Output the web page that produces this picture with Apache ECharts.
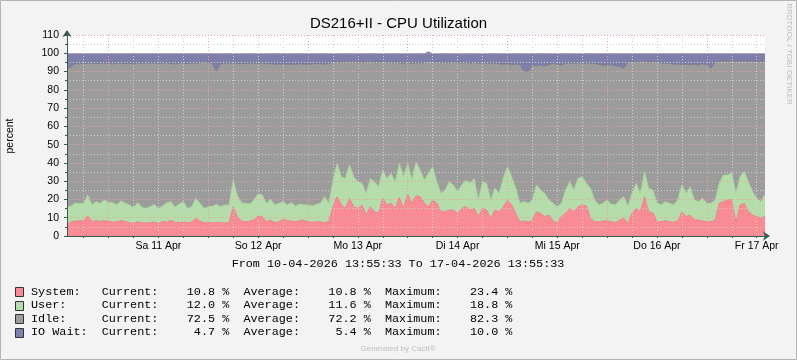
<!DOCTYPE html>
<html>
<head>
<meta charset="utf-8">
<script src="https://cdn.jsdelivr.net/npm/echarts@6/dist/echarts.min.js"></script>
<style>
html,body{margin:0;padding:0;background:#f3f3f3;}
#c{width:797px;height:360px;}
</style>
</head>
<body>
<div id="c"></div>
<script>
// ---- data (hourly samples, 10-04-2026 14:00 .. 17-04-2026 14:00) ----
const dayLabels = ['Sa 11 Apr','So 12 Apr','Mo 13 Apr','Di 14 Apr','Mi 15 Apr','Do 16 Apr','Fr 17 Apr'];
const yTicks = [0,10,20,30,40,50,60,70,80,90,100,110];

const systemVals = [
6.0,7.8,8.2,8.2,8.3,11.0,8.0,8.4,8.0,8.4,
8.2,7.5,7.8,8.4,8.0,7.3,6.9,7.8,7.3,7.1,
7.3,7.6,6.9,8.0,7.5,8.7,7.5,7.3,7.8,7.1,
7.6,9.7,8.2,7.3,7.3,7.1,7.5,7.3,7.1,7.3,
16.0,10.5,8.2,7.8,8.2,8.7,11.0,10.6,7.8,8.7,
7.3,7.8,9.3,8.4,8.2,7.8,8.4,8.7,7.8,7.5,
7.8,7.8,7.3,7.8,16.0,21.5,17.0,15.1,20.5,16.0,
15.1,17.0,11.5,16.0,13.3,12.4,20.6,17.0,17.9,15.1,
21.0,15.1,23.0,17.9,22.0,21.5,17.9,16.0,19.7,17.9,
13.3,13.3,14.2,14.2,12.4,15.1,16.0,14.2,15.1,10.6,
15.1,14.2,9.7,14.2,13.3,16.0,19.5,17.0,12.4,7.8,
8.2,7.8,8.2,13.3,12.4,10.6,11.5,8.2,7.3,10.6,
12.4,15.1,13.3,16.0,17.0,16.5,9.7,7.8,7.8,8.2,
8.4,7.8,7.3,8.7,9.7,6.9,12.4,15.1,13.3,21.5,
13.3,12.7,7.8,7.8,8.4,7.8,7.5,8.2,13.3,10.6,
11.5,8.7,8.7,8.2,7.8,7.8,8.7,17.9,18.8,19.7,
20.0,7.3,17.0,17.9,13.3,11.5,10.6,9.7,10.8];

const userVals = [
9.7,8.6,9.8,9.6,9.5,11.4,9.0,10.4,9.9,11.3,
10.2,10.7,9.2,10.9,9.9,9.7,8.6,10.4,8.4,8.0,
8.7,9.7,8.2,8.4,10.7,10.1,8.2,10.2,11.0,8.0,
8.4,10.9,9.7,7.8,8.7,9.3,9.8,8.7,9.9,9.7,
14.6,11.5,10.0,10.1,9.3,11.0,12.0,11.8,10.1,11.3,
9.7,10.1,9.5,8.6,10.0,8.6,9.1,8.3,9.2,8.9,
9.5,10.1,14.2,10.1,13.7,18.2,15.4,16.4,18.3,16.4,
14.6,11.8,11.8,15.5,16.4,14.6,15.4,14.5,16.3,14.6,
18.7,17.3,16.7,12.7,18.5,14.5,12.7,18.2,18.2,11.8,
10.0,11.8,15.5,13.7,11.8,12.8,14.6,14.6,16.4,9.1,
14.6,14.6,10.0,12.0,10.0,15.5,18.4,15.4,13.8,10.1,
10.6,10.1,11.5,14.6,12.7,12.7,8.2,9.7,8.7,7.3,
12.7,14.6,11.8,15.5,15.4,12.3,16.3,11.9,9.2,9.7,
11.3,9.7,9.7,11.0,11.8,9.5,10.9,13.7,10.0,13.7,
12.9,12.4,10.4,9.2,10.4,10.1,9.5,11.5,14.6,12.7,
15.5,11.0,10.1,12.4,10.1,10.1,11.0,10.9,14.5,13.6,
14.6,16.0,15.4,17.3,16.4,12.7,10.0,9.1,12.0];

const idleVals = [
76.3,76.1,76.4,76.4,76.7,72.0,77.6,75.6,76.6,75.0,
76.0,76.0,77.5,75.3,76.4,77.5,78.6,76.4,78.7,79.7,
78.5,77.4,79.2,78.1,76.6,75.6,78.5,77.1,75.7,79.3,
78.7,73.9,76.9,80.2,79.2,78.0,72.9,78.4,77.6,77.5,
64.1,72.4,76.3,76.4,77.1,74.7,71.5,72.3,76.3,74.4,
77.1,76.1,75.4,76.9,75.9,77.6,76.8,77.1,77.0,77.8,
77.1,76.4,72.6,76.5,65.4,55.6,62.6,63.9,56.8,62.8,
65.8,66.3,72.0,64.0,65.4,68.0,59.4,63.7,60.8,65.5,
55.1,62.2,55.3,63.9,54.3,58.7,64.4,61.4,57.0,65.5,
71.7,70.0,65.1,67.3,70.8,66.8,64.3,65.8,63.5,74.8,
65.1,65.8,74.7,68.5,70.9,62.5,56.4,61.4,67.8,75.8,
71.7,72.1,73.9,65.3,68.4,69.8,74.1,76.6,78.0,75.7,
69.3,65.0,69.4,63.3,62.2,65.9,68.4,74.8,76.9,75.7,
73.7,76.3,76.2,73.1,70.3,78.8,72.1,66.3,72.2,60.1,
69.0,70.3,76.9,77.8,75.6,76.7,77.0,74.5,65.8,70.8,
66.8,74.3,74.8,73.7,75.8,73.9,75.5,66.7,62.5,62.3,
61.4,72.1,63.3,60.7,65.8,71.6,74.8,76.8,72.5];

const iowaitVals = [
8.0,7.5,5.6,5.8,5.5,5.6,5.4,5.6,5.5,5.3,
5.6,5.8,5.5,5.4,5.7,5.5,5.9,5.4,5.6,5.2,
5.5,5.3,5.7,5.5,5.2,5.6,5.8,5.4,5.5,5.6,
5.3,5.5,5.2,4.7,4.8,5.6,9.8,5.6,5.4,5.5,
5.3,5.6,5.5,5.7,5.4,5.6,5.5,5.3,5.8,5.6,
5.9,6.0,5.8,6.1,5.9,6.0,5.7,5.9,6.0,5.8,
5.6,5.7,5.9,5.6,4.9,4.7,5.0,4.6,4.4,4.8,
4.5,4.9,4.7,4.5,4.9,5.0,4.6,4.8,5.0,4.8,
5.2,5.4,5.0,5.5,5.2,5.3,5.0,5.4,5.1,4.8,
5.0,4.9,5.2,4.8,5.0,5.3,5.1,5.4,5.0,5.5,
5.2,5.4,5.6,5.3,5.8,6.0,5.7,6.2,6.0,6.3,
9.5,10.0,6.4,6.8,6.5,6.9,6.2,5.5,6.0,6.4,
5.6,5.3,5.5,5.2,5.4,5.3,5.6,5.5,6.1,6.4,
6.6,6.2,6.8,7.2,8.2,4.8,4.6,4.9,4.5,4.7,
4.8,4.6,4.9,5.2,5.6,5.4,6.0,5.8,6.3,5.9,
6.2,6.0,6.4,5.7,6.3,8.2,4.8,4.5,4.2,4.4,
4.0,4.6,4.3,4.1,4.5,4.2,4.6,4.4,4.7];

// legend texts
const seriesNames = ['System:', 'User:', 'Idle:', 'IO Wait:'];
const currentText = ['10.8', '12.0', '72.5', '4.7'];
const averageText = ['10.8', '11.6', '72.2', '5.4'];
const maximumText = ['23.4', '18.8', '82.3', '10.0'];
const seriesColors = ['#F98B94', '#B4DDAA', '#9C9C9C', '#7F7FAB'];
const titleText = 'DS216+II - CPU Utilization';
const rangeText = 'From 10-04-2026 13:55:33 To 17-04-2026 13:55:33';

// category axis: hourly timestamps
const timeCats = [];
for (let i = 0; i < systemVals.length; i++) {
  const t = 14 + i;
  const d = 10 + Math.floor(t / 24);
  const h = t % 24;
  timeCats.push(String(d).padStart(2,'0') + '-04 ' + String(h).padStart(2,'0') + ':00');
}
const hourOf = v => parseInt(v.slice(6, 8), 10);
const dayOf = v => parseInt(v.slice(0, 2), 10);

const chart = echarts.init(document.getElementById('c'), null, {renderer: 'canvas'});

const axisColor = '#3d5c52';
const majorGrid = {show: true, lineStyle: {color: '#e3a3a3', width: 1, type: [1, 2]}};
const minorGrid = {show: true, lineStyle: {color: '#cfcfcf', width: 1, type: [1, 2]}};
const labelFont = {fontFamily: '"Liberation Sans", Arial, sans-serif', fontSize: 10.5, color: '#000'};

function legendRow(i) {
  return seriesNames[i].padEnd(10) + 'Current:' + currentText[i].padStart(8) + ' %  ' +
    'Average:' + averageText[i].padStart(8) + ' %  ' +
    'Maximum:' + maximumText[i].padStart(8) + ' %';
}
const rowY = [291.5, 305.0, 318.7, 332.3];
const monoFont = '11.8px "Liberation Mono", "Courier New", monospace';

const graphics = [
  {type: 'rect', shape: {x: 0.5, y: 0.5, width: 796, height: 359}, style: {fill: 'none', stroke: '#b4b4b4', lineWidth: 1}, silent: true},
  {type: 'text', x: 10, y: 136, rotation: Math.PI / 2,
   style: {text: 'percent', font: '10.5px "Liberation Sans", Arial, sans-serif', fill: '#000', align: 'center', verticalAlign: 'middle', textAlign: 'center', textVerticalAlign: 'middle'}},
  {type: 'text', x: 789, y: 54, rotation: -Math.PI / 2,
   style: {text: 'RRDTOOL / TOBI OETIKER', font: '8px "Liberation Sans", Arial, sans-serif', fill: '#bdbdbd', align: 'center', verticalAlign: 'middle', textAlign: 'center', textVerticalAlign: 'middle'}},
  {type: 'text', x: 398, y: 263.5,
   style: {text: rangeText, font: monoFont, fill: '#000', align: 'center', verticalAlign: 'middle', textAlign: 'center', textVerticalAlign: 'middle'}},
  {type: 'text', x: 398, y: 349,
   style: {text: 'Generated by Cacti\u00AE', font: '8px "Liberation Sans", Arial, sans-serif', fill: '#bdbdbd', align: 'center', verticalAlign: 'middle', textAlign: 'center', textVerticalAlign: 'middle'}}
];
for (let i = 0; i < 4; i++) {
  graphics.push({type: 'rect', shape: {x: 15.5, y: Math.round(rowY[i] - 4.5) + 0.5, width: 8, height: 9},
    style: {fill: seriesColors[i], stroke: '#333', lineWidth: 1}});
  graphics.push({type: 'text', x: 31, y: rowY[i],
    style: {text: legendRow(i), font: monoFont, fill: '#000', align: 'left', verticalAlign: 'middle', textAlign: 'left', textVerticalAlign: 'middle'}});
}

function areaSeries(name, data, color, line, lw) {
  return {
    name: name, type: 'line', stack: 'cpu', data: data,
    symbol: 'none', showSymbol: false, smooth: false,
    xAxisIndex: 0, yAxisIndex: 0,
    lineStyle: line ? {color: line, width: lw} : {width: 0},
    areaStyle: {color: color, opacity: 1},
    emphasis: {disabled: true}
  };
}

chart.setOption({
  animation: false,
  backgroundColor: '#f3f3f3',
  title: {text: titleText, left: 'center', top: 11,
    textStyle: {fontFamily: '"Liberation Sans", Arial, sans-serif', fontSize: 15, fontWeight: 'normal', color: '#000'}},
  grid: {left: 67, right: 32, top: 35, bottom: 124, show: true, backgroundColor: '#ffffff', borderWidth: 0},
  xAxis: [
    {type: 'category', data: timeCats, boundaryGap: false, position: 'bottom', z: 6,
     axisLine: {show: true, lineStyle: {color: axisColor, width: 1}, symbol: ['none', 'arrow'], symbolSize: [7, 7], symbolOffset: [0, 5]},
     axisTick: {show: true, length: 2, lineStyle: {color: axisColor}, interval: (i, v) => hourOf(v) % 6 === 0},
     axisLabel: Object.assign({show: true, margin: 5, interval: (i, v) => hourOf(v) === 12,
       formatter: v => dayLabels[dayOf(v) - 11]}, labelFont),
     splitLine: Object.assign({interval: (i, v) => hourOf(v) === 0}, majorGrid)},
    {type: 'category', data: timeCats, boundaryGap: false, position: 'top', z: 5,
     axisLine: {show: false}, axisTick: {show: false}, axisLabel: {show: false},
     splitLine: Object.assign({interval: (i, v) => hourOf(v) % 6 === 0}, minorGrid)}
  ],
  yAxis: [{type: 'value', min: yTicks[0], max: yTicks[yTicks.length - 1], interval: 10, z: 6,
    axisLine: {show: true, lineStyle: {color: axisColor, width: 1}, symbol: ['none', 'arrow'], symbolSize: [7, 7], symbolOffset: [0, 5]},
    axisTick: {show: true, length: 3, lineStyle: {color: axisColor}},
    minorTick: {show: true, splitNumber: 2, length: 2, lineStyle: {color: axisColor}},
    axisLabel: Object.assign({margin: 8}, labelFont),
    splitLine: majorGrid,
    minorSplitLine: minorGrid}],
  series: [
    areaSeries('System', systemVals, seriesColors[0], '#f07f89', 1),
    areaSeries('User', userVals, seriesColors[1], '#a6d29b', 1),
    areaSeries('Idle', idleVals, seriesColors[2], '#6c6c7c', 0.7),
    areaSeries('IO Wait', iowaitVals, seriesColors[3], null, 0)
  ],
  graphic: graphics
});
</script>
</body>
</html>
